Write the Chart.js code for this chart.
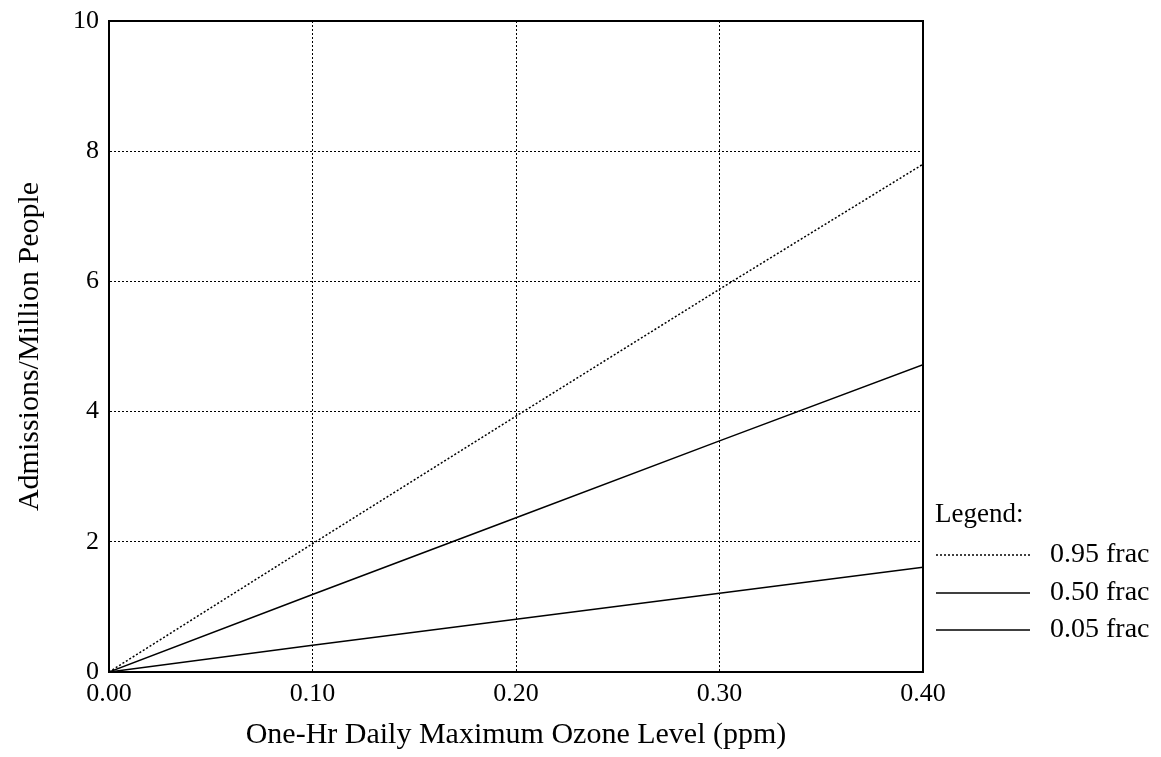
<!DOCTYPE html>
<html>
<head>
<meta charset="utf-8">
<script src="https://cdn.jsdelivr.net/npm/chart.js@4"></script>
<style>
html,body{margin:0;padding:0;background:#fff;}
#wrap{width:1161px;height:757px;}
</style>
</head>
<body>
<div id="wrap"><canvas id="c" width="1161" height="757"></canvas></div>
<script>
// ---- data ----
const ozoneLevels = [0.00, 0.10, 0.20, 0.30, 0.40];
const frac95 = [0, 1.97, 3.93, 5.88, 7.80];
const frac50 = [0, 1.19, 2.37, 3.55, 4.72];
const frac05 = [0, 0.41, 0.81, 1.21, 1.61];
const seriesLabels = ['0.95 frac', '0.50 frac', '0.05 frac'];
const xTickLabels = ['0.00', '0.10', '0.20', '0.30', '0.40'];
const yTickLabels = ['0', '2', '4', '6', '8', '10'];
const xTitle = 'One-Hr Daily Maximum Ozone Level (ppm)';
const yTitle = 'Admissions/Million People';
const legendTitle = 'Legend:';

const FONT = '"Liberation Serif", "DejaVu Serif", serif';

function pts(ys){ return ozoneLevels.map((x,i)=>({x:x, y:ys[i]})); }

const framePlugin = {
  id: 'frame',
  afterDatasetsDraw(chart){
    const {ctx, chartArea:a} = chart;
    ctx.save();
    ctx.strokeStyle = '#000';
    ctx.lineWidth = 2;
    ctx.setLineDash([]);
    ctx.strokeRect(a.left, a.top, a.right - a.left, a.bottom - a.top);
    ctx.restore();
  }
};

const legendPlugin = {
  id: 'customLegend',
  afterDraw(chart){
    const {ctx, chartArea:a} = chart;
    ctx.save();
    ctx.fillStyle = '#000';
    ctx.textBaseline = 'middle';
    ctx.textAlign = 'left';
    const x0 = a.right + 12;
    ctx.font = '27px ' + FONT;
    ctx.fillText(legendTitle, x0, 515);
    ctx.font = '28px ' + FONT;
    const rowY = [555, 593, 630];
    chart.data.datasets.forEach((ds, i) => {
      const y = rowY[i];
      ctx.beginPath();
      ctx.strokeStyle = ds.borderColor;
      ctx.lineWidth = ds.borderWidth;
      ctx.setLineDash(ds.borderDash || []);
      ctx.moveTo(x0 + 1, y);
      ctx.lineTo(x0 + 95, y);
      ctx.stroke();
      ctx.setLineDash([]);
      ctx.fillText(ds.label, x0 + 115, y);
    });
    ctx.restore();
  }
};

new Chart(document.getElementById('c'), {
  type: 'line',
  data: {
    datasets: [
      { label: seriesLabels[0], data: pts(frac95), borderColor: '#000', borderWidth: 1.5, borderDash: [2, 2], pointRadius: 0, fill: false, tension: 0 },
      { label: seriesLabels[1], data: pts(frac50), borderColor: '#000', borderWidth: 1.5, pointRadius: 0, fill: false, tension: 0 },
      { label: seriesLabels[2], data: pts(frac05), borderColor: '#000', borderWidth: 1.5, pointRadius: 0, fill: false, tension: 0 }
    ]
  },
  options: {
    responsive: false,
    animation: false,
    layout: { padding: { left: 0, top: 21, right: 238, bottom: 0 } },
    plugins: { legend: { display: false }, tooltip: { enabled: false } },
    scales: {
      x: {
        type: 'linear', min: 0, max: 0.4,
        afterFit(s){ s.height = 85; s.paddingLeft = 0; s.paddingRight = 0; },
        ticks: { stepSize: 0.1, color: '#000', padding: 7, maxRotation: 0,
                 font: { family: FONT, size: 26 },
                 callback: (v) => { const i = Math.round(v * 10); return xTickLabels[i] !== undefined ? xTickLabels[i] : ''; } },
        grid: { color: '#000', lineWidth: 1, drawTicks: false },
        border: { display: true, color: '#000', width: 2, dash: [2, 2] },
        title: { display: true, text: xTitle, color: '#000', font: { family: FONT, size: 30 }, padding: { top: 0, bottom: 4 } }
      },
      y: {
        type: 'linear', min: 0, max: 10,
        afterFit(s){ s.width = 109; s.paddingTop = 0; s.paddingBottom = 0; },
        ticks: { stepSize: 2, color: '#000', padding: 10,
                 font: { family: FONT, size: 26 },
                 callback: (v) => { const i = Math.round(v / 2); return yTickLabels[i] !== undefined ? yTickLabels[i] : ''; } },
        grid: { color: '#000', lineWidth: 1, drawTicks: false },
        border: { display: true, color: '#000', width: 2, dash: [2, 2] },
        title: { display: true, text: yTitle, color: '#000', font: { family: FONT, size: 30 }, padding: { top: 12, bottom: 0 } }
      }
    }
  },
  plugins: [framePlugin, legendPlugin]
});
</script>
</body>
</html>
